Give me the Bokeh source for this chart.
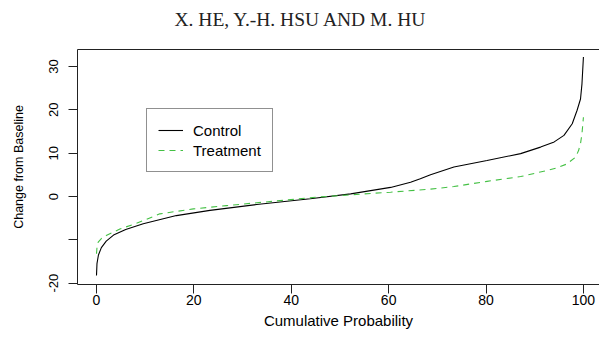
from bokeh.plotting import figure
from bokeh.models import Range1d, FixedTicker, LinearAxis, Legend, LegendItem, Title, ColumnDataSource
from bokeh.embed import file_html
from bokeh.resources import INLINE

# ---- data ----
title_text = "X. HE, Y.-H. HSU AND M. HU"
x_label = "Cumulative Probability"
y_label = "Change from Baseline"
series_names = ["Control", "Treatment"]
x_ticks = [0, 20, 40, 60, 80, 100]
y_ticks = [-20, -10, 0, 10, 20, 30]
y_tick_labels = ["-20", "", "0", "10", "20", "30"]

p_control = [0, 0.1, 0.4, 1.0, 2.0, 3.5, 6.0, 9.6, 16.4, 23.3, 32.9, 43.9, 52.2,
             60.4, 64.5, 66.5, 68.6, 73.4, 80.2, 87.1, 91.2, 94.0, 96.0, 97.7,
             98.7, 99.4, 99.7, 100]
v_control = [-18.2, -15.5, -13.5, -11.8, -10.3, -8.9, -7.6, -6.3, -4.4, -3.2, -1.85,
             -0.5, 0.6, 2.1, 3.3, 4.1, 5.0, 6.8, 8.3, 9.9, 11.4, 12.6, 14.1, 16.8,
             19.9, 22.5, 26.0, 32.2]

p_treat = [0, 0.1, 0.35, 1.0, 2.0, 4.8, 8.2, 13.0, 19.9, 26.7, 32.9, 45.3, 52.2,
           60.4, 68.6, 73.4, 80.2, 87.1, 92.5, 94.5, 96.6, 98.4, 99.0, 99.4, 99.7, 100]
v_treat = [-13.2, -11.8, -10.5, -9.7, -9.0, -7.5, -6.2, -4.0, -2.85, -2.1, -1.45,
           -0.15, 0.4, 1.0, 1.7, 2.3, 3.5, 4.6, 6.0, 6.6, 7.5, 9.1, 10.6, 12.2,
           14.5, 18.3]

src_c = ColumnDataSource(dict(x=p_control, y=v_control))
src_t = ColumnDataSource(dict(x=p_treat, y=v_treat))

p = figure(width=599, height=340, output_backend="svg", toolbar_location=None,
           x_range=Range1d(-3.9, 103.3), y_range=Range1d(-20.3, 33.92),
           min_border_left=77, min_border_right=0, min_border_top=49,
           min_border_bottom=56, background_fill_color="white",
           border_fill_color="white")
p.outline_line_color = None
p.xgrid.grid_line_color = None
p.ygrid.grid_line_color = None

FONT = "Liberation Sans"

# bottom axis
xa = p.xaxis[0]
xa.ticker = FixedTicker(ticks=x_ticks)
xa.axis_label = x_label
xa.axis_line_color = "#222222"
xa.major_tick_line_color = "#222222"
xa.major_tick_out = 9
xa.major_tick_in = 0
xa.minor_tick_line_color = None
xa.major_label_standoff = 1
xa.major_label_text_font = FONT
xa.major_label_text_font_size = "14px"
xa.major_label_text_color = "black"
xa.axis_label_text_font = FONT
xa.axis_label_text_font_size = "15px"
xa.axis_label_text_font_style = "normal"
xa.axis_label_text_color = "black"
xa.axis_label_standoff = 4

# left axis
ya = p.yaxis[0]
ya.ticker = FixedTicker(ticks=y_ticks)
ya.major_label_overrides = {t: l for t, l in zip(y_ticks, y_tick_labels)}
ya.major_label_orientation = "vertical"
ya.axis_label = y_label
ya.axis_line_color = "#222222"
ya.major_tick_line_color = "#222222"
ya.major_tick_out = 9
ya.major_tick_in = 0
ya.minor_tick_line_color = None
ya.major_label_standoff = 10
ya.major_label_text_font = FONT
ya.major_label_text_font_size = "13px"
ya.major_label_text_color = "black"
ya.axis_label_text_font = FONT
ya.axis_label_text_font_size = "12.5px"
ya.axis_label_text_font_style = "normal"
ya.axis_label_text_color = "black"
ya.axis_label_standoff = 21

# top border as an axis line; an invisible tick reserves the gap to the running head
top = LinearAxis(ticker=FixedTicker(ticks=[50]), axis_line_color="#222222",
                 major_tick_out=15, major_tick_in=0, minor_tick_out=0, minor_tick_in=0,
                 major_tick_line_color=None, minor_tick_line_color=None,
                 major_label_standoff=0, major_label_text_font_size="0px",
                 major_label_overrides={50: ""})
p.add_layout(top, "above")

p.add_layout(Title(text=title_text, align="left", offset=97, standoff=10,
                   text_font="Liberation Serif", text_font_size="19.5px",
                   text_font_style="normal", text_color="#222222"), "above")

r1 = p.line("x", "y", source=src_c, line_color="black", line_width=1.1)
r2 = p.line("x", "y", source=src_t, line_color="#44c044", line_width=1.1,
            line_dash="6 5")

legend = Legend(items=[LegendItem(label=series_names[0], renderers=[r1]),
                       LegendItem(label=series_names[1], renderers=[r2])],
                location=(69, 112), margin=0, padding=11, spacing=0,
                label_height=20, glyph_height=20, glyph_width=25,
                label_standoff=10, label_text_font=FONT,
                label_text_font_size="15px", label_text_color="black",
                border_line_color="#222222", border_line_width=1,
                background_fill_color="white", background_fill_alpha=1)
p.add_layout(legend, "center")

open("out.html", "w").write(file_html(p, INLINE))
